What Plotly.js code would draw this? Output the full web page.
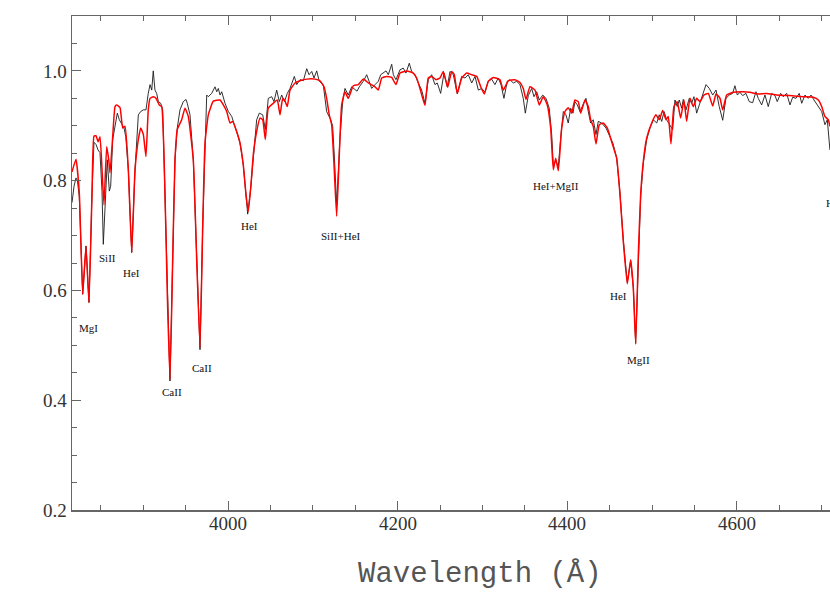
<!DOCTYPE html>
<html>
<head>
<meta charset="utf-8">
<script src="https://cdn.plot.ly/plotly-3.0.1.min.js"></script>
<style>
  html, body { margin: 0; padding: 0; overflow: hidden; background: #fff; }
  #grafico { width: 900px; height: 603px; }
</style>
</head>
<body>
<div id="grafico"></div>
<script>
// --- observed spectrum (black) ---
const waveObs = [3816.1,3818.5,3820.8,3822.5,3824.7,3828.7,3832.6,3836.1,3839.7,3842.0,3844.4,3846.8,3849.1,3851.5,3853.0,3856.2,3857.7,3860.1,3861.7,3864.1,3866.8,3869.5,3871.9,3874.7,3877.4,3879.5,3882.5,3886.5,3890.4,3894.3,3897.1,3900.2,3903.3,3906.0,3908.1,3910.1,3911.9,3913.9,3915.9,3917.9,3920.7,3923.0,3925.7,3928.4,3931.6,3934.8,3937.5,3940.2,3943.4,3947.3,3950.5,3952.0,3955.2,3959.1,3963.1,3967.0,3970.2,3972.9,3974.9,3976.8,3980.8,3984.7,3986.7,3988.6,3990.6,3992.6,3996.5,4000.4,4004.4,4009.4,4014.1,4018.0,4021.2,4023.2,4026.8,4029.8,4033.8,4036.9,4040.9,4044.0,4047.5,4051.5,4054.2,4057.4,4060.5,4063.3,4066.6,4069.9,4073.1,4078.2,4081.0,4084.9,4088.8,4092.8,4095.5,4098.7,4101.4,4104.6,4107.6,4112.3,4116.3,4121.1,4123.4,4125.5,4128.1,4132.0,4135.2,4137.9,4141.8,4145.8,4148.5,4152.1,4154.8,4159.5,4163.5,4166.6,4169.4,4173.3,4177.2,4180.0,4183.1,4186.3,4189.0,4193.0,4194.9,4198.0,4202.8,4206.6,4209.8,4213.7,4216.5,4220.4,4224.3,4228.3,4232.2,4236.1,4240.1,4244.0,4246.7,4250.7,4254.6,4258.5,4261.7,4265.6,4270.3,4275.5,4279.4,4283.3,4287.3,4291.2,4295.1,4299.1,4303.0,4306.8,4310.8,4314.7,4318.6,4321.8,4325.3,4329.2,4332.4,4336.3,4340.3,4344.2,4348.1,4350.5,4354.0,4358.0,4360.7,4363.9,4367.0,4371.0,4374.9,4378.7,4381.6,4383.5,4386.6,4389.4,4392.2,4395.3,4398.4,4401.1,4404.0,4406.7,4409.0,4411.8,4414.9,4418.8,4422.0,4424.7,4427.5,4430.6,4433.8,4436.5,4440.5,4445.6,4450.3,4453.8,4458.2,4462.1,4466.0,4470.7,4474.7,4477.8,4480.6,4483.7,4486.5,4489.6,4493.6,4497.5,4501.4,4505.4,4508.4,4511.3,4514.0,4517.1,4521.0,4524.2,4526.9,4529.6,4532.0,4534.8,4536.7,4539.9,4543.8,4546.6,4549.3,4552.5,4555.6,4559.6,4563.5,4567.4,4571.4,4575.3,4579.1,4583.2,4587.0,4590.9,4594.9,4597.6,4600.4,4603.5,4606.7,4610.6,4614.5,4618.5,4622.4,4625.1,4629.1,4633.0,4636.9,4640.9,4644.8,4647.5,4651.5,4654.6,4658.6,4662.5,4665.7,4669.6,4673.4,4676.3,4680.2,4684.1,4687.3,4690.8,4695.9,4699.9,4703.7,4706.5,4709.6];
const fluxObs = [0.760,0.790,0.805,0.800,0.770,0.593,0.681,0.578,0.778,0.870,0.866,0.856,0.851,0.780,0.684,0.808,0.838,0.781,0.790,0.875,0.899,0.923,0.911,0.902,0.896,0.880,0.820,0.669,0.820,0.920,0.926,0.929,0.929,0.959,0.975,0.965,1.000,0.965,0.959,0.944,0.941,0.929,0.778,0.596,0.435,0.656,0.838,0.896,0.929,0.944,0.948,0.941,0.920,0.838,0.656,0.492,0.717,0.880,0.956,0.953,0.959,0.971,0.962,0.968,0.956,0.962,0.941,0.926,0.917,0.893,0.869,0.829,0.775,0.739,0.787,0.847,0.911,0.923,0.920,0.893,0.950,0.953,0.944,0.965,0.944,0.956,0.944,0.959,0.968,0.990,0.975,0.984,0.982,1.004,0.993,0.999,0.987,1.000,0.981,0.975,0.926,0.911,0.899,0.840,0.756,0.878,0.944,0.968,0.956,0.971,0.968,0.963,0.971,0.981,0.993,0.978,0.968,0.975,0.981,0.993,0.996,1.000,0.993,1.012,0.993,0.984,1.002,1.005,0.996,1.014,0.999,0.993,0.978,0.965,0.941,0.984,0.993,0.975,0.978,0.959,0.996,0.971,0.999,0.993,0.958,0.990,0.987,0.993,0.978,0.990,0.965,0.968,0.961,0.981,0.985,0.975,0.987,0.975,0.950,0.981,0.984,0.978,0.981,0.975,0.950,0.923,0.955,0.968,0.953,0.962,0.947,0.956,0.950,0.932,0.884,0.829,0.835,0.826,0.878,0.926,0.920,0.905,0.932,0.923,0.944,0.938,0.926,0.941,0.950,0.926,0.905,0.911,0.884,0.908,0.905,0.896,0.881,0.868,0.841,0.778,0.692,0.615,0.654,0.606,0.505,0.660,0.772,0.832,0.875,0.896,0.911,0.905,0.920,0.908,0.926,0.911,0.902,0.893,0.947,0.935,0.947,0.932,0.948,0.929,0.950,0.941,0.953,0.923,0.938,0.959,0.975,0.968,0.956,0.965,0.935,0.910,0.950,0.956,0.959,0.973,0.956,0.961,0.955,0.959,0.944,0.942,0.962,0.950,0.938,0.956,0.935,0.959,0.955,0.944,0.959,0.953,0.959,0.938,0.952,0.950,0.959,0.941,0.956,0.950,0.956,0.947,0.935,0.926,0.902,0.911,0.856];

// --- model spectrum (red) ---
const waveModel = [3816.1,3820.8,3824.7,3828.7,3832.6,3836.1,3839.7,3842.0,3844.4,3846.8,3849.1,3851.5,3853.8,3857.0,3859.4,3860.9,3864.1,3866.8,3868.8,3872.7,3875.9,3878.6,3882.5,3886.5,3890.4,3894.3,3897.1,3900.2,3903.3,3906.0,3908.1,3911.9,3915.1,3919.0,3921.8,3925.7,3928.4,3931.6,3934.8,3937.5,3940.2,3945.4,3949.3,3953.2,3959.1,3963.1,3967.0,3970.2,3972.9,3976.8,3982.7,3990.6,3994.5,3998.5,4002.4,4005.5,4009.4,4014.1,4018.0,4021.2,4023.9,4026.8,4029.8,4033.8,4037.7,4040.9,4044.0,4047.5,4053.4,4058.1,4061.3,4064.5,4067.5,4069.9,4073.1,4079.0,4084.9,4092.8,4102.6,4108.4,4113.2,4116.3,4119.4,4122.2,4125.0,4128.1,4131.2,4134.0,4137.9,4141.8,4147.7,4153.6,4159.5,4165.4,4173.3,4177.2,4181.2,4187.1,4193.0,4198.0,4202.8,4210.7,4218.4,4222.4,4226.3,4232.2,4236.1,4240.1,4245.2,4249.9,4253.8,4259.0,4263.7,4266.8,4270.3,4275.5,4281.4,4287.3,4293.2,4297.9,4302.1,4306.8,4312.7,4320.6,4324.5,4330.4,4338.3,4344.2,4348.1,4351.3,4356.0,4361.9,4367.0,4371.7,4376.4,4380.4,4383.5,4386.3,4389.4,4393.4,4397.3,4401.1,4405.1,4409.0,4412.9,4415.8,4420.8,4424.7,4427.5,4430.6,4433.8,4437.7,4442.4,4447.1,4452.3,4458.2,4462.1,4466.0,4470.7,4474.7,4477.8,4480.6,4483.7,4486.5,4489.6,4493.6,4499.5,4504.5,4508.4,4512.4,4516.3,4519.0,4522.2,4525.7,4529.6,4533.6,4537.5,4540.7,4544.6,4548.5,4552.5,4556.4,4561.1,4566.2,4571.4,4575.3,4580.0,4583.2,4587.9,4595.6,4607.4,4615.3,4625.1,4635.0,4646.8,4662.5,4678.2,4690.0,4695.9,4699.9,4703.7,4707.6,4709.6];
const fluxModel = [0.816,0.839,0.778,0.593,0.681,0.578,0.778,0.881,0.882,0.871,0.880,0.820,0.756,0.862,0.838,0.814,0.881,0.935,0.938,0.933,0.896,0.899,0.820,0.669,0.820,0.875,0.896,0.884,0.844,0.929,0.950,0.953,0.950,0.938,0.935,0.778,0.596,0.438,0.656,0.838,0.893,0.911,0.932,0.917,0.838,0.656,0.496,0.717,0.869,0.920,0.945,0.947,0.938,0.926,0.905,0.908,0.893,0.869,0.829,0.775,0.744,0.787,0.847,0.890,0.914,0.911,0.875,0.932,0.941,0.947,0.920,0.950,0.944,0.935,0.965,0.978,0.982,0.985,0.985,0.982,0.971,0.950,0.920,0.902,0.829,0.735,0.847,0.938,0.962,0.950,0.973,0.975,0.985,0.978,0.971,0.965,0.987,0.990,0.988,0.975,0.996,1.000,0.996,0.987,0.968,0.937,0.987,0.990,0.984,0.987,0.999,0.970,0.999,0.993,0.959,0.987,0.996,0.993,0.990,0.971,0.958,0.981,0.988,0.984,0.965,0.982,0.984,0.979,0.968,0.948,0.971,0.965,0.938,0.953,0.938,0.896,0.820,0.841,0.818,0.896,0.926,0.933,0.923,0.947,0.944,0.923,0.947,0.935,0.911,0.899,0.867,0.902,0.905,0.896,0.871,0.841,0.775,0.690,0.612,0.656,0.605,0.502,0.665,0.775,0.835,0.878,0.905,0.920,0.911,0.928,0.911,0.917,0.867,0.935,0.944,0.914,0.947,0.908,0.950,0.935,0.950,0.944,0.956,0.959,0.936,0.958,0.950,0.929,0.956,0.961,0.962,0.961,0.958,0.959,0.956,0.955,0.953,0.952,0.947,0.935,0.917,0.911,0.899];

// --- line identifications ---
const lineNames = ['MgI','SiII','HeI','CaII','CaII','HeI','SiII+HeI','HeI+MgII','HeI','MgII','HeI'];
const lineWave  = [3835.0,3857.4,3886.8,3934.0,3969.4,4025.9,4133.2,4386.6,4460.9,4484.5,4715.5];
const lineFlux  = [0.531,0.660,0.631,0.415,0.458,0.718,0.700,0.791,0.589,0.473,0.760];

// --- axis labels ---
const xTickVals = [4000, 4200, 4400, 4600];
const xTickText = ['4000', '4200', '4400', '4600'];
const xTitle = 'Wavelength (Å)';

const trazoObs = {
  x: waveObs, y: fluxObs, type: 'scatter', mode: 'lines',
  line: { color: '#1a1a1a', width: 0.9 }, hoverinfo: 'skip'
};
const trazoModel = {
  x: waveModel, y: fluxModel, type: 'scatter', mode: 'lines',
  line: { color: '#ff0000', width: 1.5, shape: 'spline', smoothing: 0.4 }, hoverinfo: 'skip'
};

const etiquetas = lineNames.map((t, i) => ({
  x: lineWave[i], y: lineFlux[i], xref: 'x', yref: 'y', text: t,
  showarrow: false, font: { family: 'Liberation Serif, serif', size: 11, color: '#111' }
}));

// etiquetas del eje X como anotaciones (para que usen la misma fuente serif)
xTickVals.forEach((v, i) => {
  etiquetas.push({
    x: v, y: -0.027, xref: 'x', yref: 'paper', text: xTickText[i], showarrow: false,
    yanchor: 'middle', font: { family: 'Liberation Serif, serif', size: 19, color: '#333' }
  });
});

etiquetas.push({
  x: 4297, y: -0.131, xref: 'x', yref: 'paper', text: xTitle, showarrow: false,
  yanchor: 'middle', font: { family: 'Liberation Mono, monospace', size: 29, color: '#555' }
});

const layout = {
  width: 900, height: 603,
  margin: { l: 72, r: 0, t: 16, b: 93 },
  font: { family: 'Liberation Serif, serif', size: 19, color: '#333' },
  showlegend: false, plot_bgcolor: '#ffffff', paper_bgcolor: '#ffffff',
  xaxis: {
    range: [3816.1, 4792.2],
    tickmode: 'array', tickvals: xTickVals, showticklabels: false,
    showgrid: false, zeroline: false, showline: true, linecolor: '#666', linewidth: 1.5,
    mirror: 'allticks', ticks: 'inside', ticklen: 9, tickcolor: '#666', tickwidth: 1,
    minor: { dtick: 50, tick0: 4000, ticks: 'inside', ticklen: 5, tickcolor: '#666' }
  },
  yaxis: {
    range: [0.2, 1.1],
    tickmode: 'linear', tick0: 0.2, dtick: 0.2, tickformat: '.1f',
    tickfont: { family: 'Liberation Serif, serif', size: 19, color: '#333' },
    showgrid: false, zeroline: false, showline: true, linecolor: '#666', linewidth: 1.5,
    mirror: 'allticks', ticks: 'inside', ticklen: 9, tickcolor: '#666', tickwidth: 1,
    minor: { dtick: 0.05, ticks: 'inside', ticklen: 5, tickcolor: '#666' }
  },
  annotations: etiquetas
};

Plotly.newPlot('grafico', [trazoObs, trazoModel], layout, { staticPlot: true });
</script>
</body>
</html>
